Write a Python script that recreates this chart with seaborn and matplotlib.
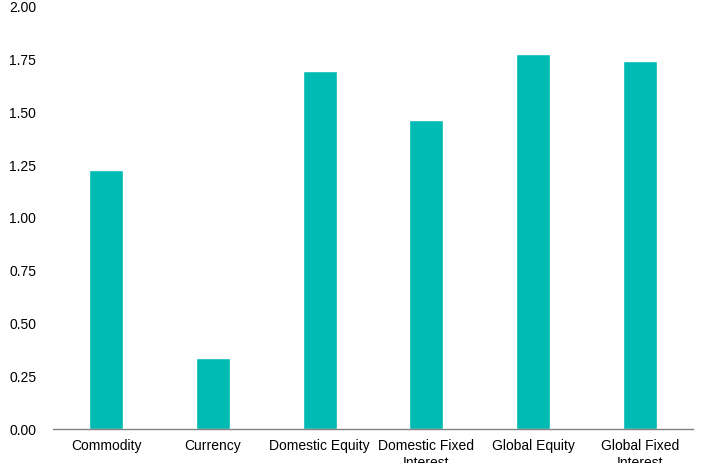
import numpy as np
import pandas as pd
import matplotlib
matplotlib.use("Agg")
import matplotlib.pyplot as plt
import seaborn as sns
from matplotlib.ticker import FixedLocator, FormatStrFormatter

categories = ["Commodity", "Currency", "Domestic Equity", "Domestic Fixed\nInterest",
              "Global Equity", "Global Fixed\nInterest"]
values = [1.229, 0.337, 1.698, 1.465, 1.774, 1.744]
yticks = [0.0, 0.25, 0.5, 0.75, 1.0, 1.25, 1.5, 1.75, 2.0]

sns.set_style("white")
plt.rcParams['font.family'] = ['Liberation Sans', 'DejaVu Sans']

df = pd.DataFrame({"category": categories, "value": values})

fig = plt.figure(figsize=(7.16, 4.63), dpi=100)
ax = fig.add_axes([0.074, 0.0734, 0.894, 0.912])

sns.barplot(data=df, x="category", y="value", color="#00BBB4", width=0.32,
            saturation=1, ax=ax)

ax.set_ylim(0, 2.0)
ax.set_xlim(-0.5, len(categories) - 0.5)
ax.set_yticks(yticks)
ax.yaxis.set_major_formatter(FormatStrFormatter("%.2f"))
ax.set_xlabel("")
ax.set_ylabel("")

for s in ["top", "right", "left"]:
    ax.spines[s].set_visible(False)
ax.spines["bottom"].set_color("#808080")
ax.spines["bottom"].set_linewidth(1.0)

# category labels centred, tick marks between the categories
ax.tick_params(axis="x", which="major", length=0, labelsize=10, pad=7, colors="black")
ax.xaxis.set_minor_locator(FixedLocator(np.arange(-0.5, len(categories), 1.0)))
ax.tick_params(axis="x", which="minor", length=4, width=1, color="#808080", direction="out")
ax.tick_params(axis="y", length=0, labelsize=10, pad=12, colors="black")
for lbl in ax.get_xticklabels():
    lbl.set_linespacing(1.3)

fig.savefig("out.png", dpi=100)
